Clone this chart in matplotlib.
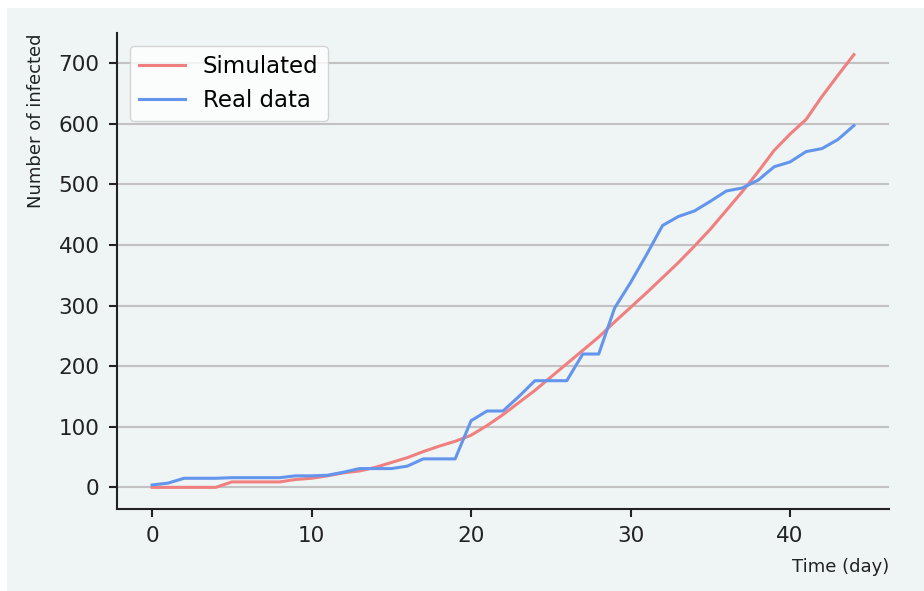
import matplotlib
matplotlib.use("Agg")
import matplotlib.pyplot as plt
from matplotlib.patches import Rectangle

# data
days = list(range(45))
simulated = [0, 0, 0, 0, 0, 9, 9, 9, 9, 13, 15, 19, 24, 27, 33, 41, 49, 59, 68, 76,
             86, 102, 120, 140, 160, 182, 204, 226, 248, 273, 297, 321, 346, 371, 398,
             426, 457, 488, 521, 556, 583, 607, 645, 680, 714]
real_data = [4, 7, 15, 15, 15, 16, 16, 16, 16, 19, 19, 20, 25, 31, 31, 31, 35, 47, 47, 47,
             110, 126, 126, 150, 176, 176, 176, 220, 220, 296, 338, 384, 432, 447, 456,
             472, 489, 494, 507, 529, 537, 554, 559, 574, 597]

bg = "#eff4f4"

fig = plt.figure(figsize=(9.24, 5.91), dpi=100, facecolor="white")
# light panel behind everything (white strip on the top/left edge)
fig.patches.append(Rectangle((7 / 924, 0), 1, 1 - 8 / 591, transform=fig.transFigure,
                             facecolor=bg, edgecolor="none", zorder=-10))

ax = fig.add_axes([117 / 924, 1 - 509 / 591, (889 - 117) / 924, (509 - 33) / 591])
ax.set_facecolor(bg)

ax.plot(days, simulated, color="#f08080", lw=2.2, label="Simulated")
ax.plot(days, real_data, color="#6495ed", lw=2.2, label="Real data")

ax.grid(axis="y", color="#c2c2c2", lw=1.5)
ax.set_axisbelow(True)
for s in ["top", "right"]:
    ax.spines[s].set_visible(False)
for s in ["left", "bottom"]:
    ax.spines[s].set_linewidth(1.5)
    ax.spines[s].set_color("#222222")

ax.tick_params(labelsize=15.5, width=1.5, length=6, color="#222222", labelcolor="#222222")
ax.tick_params(axis="x", pad=6)
ax.tick_params(axis="y", pad=6.5)
ax.set_yticks([0, 100, 200, 300, 400, 500, 600, 700])
ax.set_xticks([0, 10, 20, 30, 40])

ax.set_xlabel("Time (day)", fontsize=13, loc="right", labelpad=9, color="#222222")
ax.set_ylabel("Number of infected", fontsize=13, loc="top", labelpad=10, color="#222222")

ax.legend(loc="upper left", fontsize=16.5, framealpha=0.8, borderaxespad=0.55)

plt.savefig("out.png", dpi=100, facecolor=fig.get_facecolor())
